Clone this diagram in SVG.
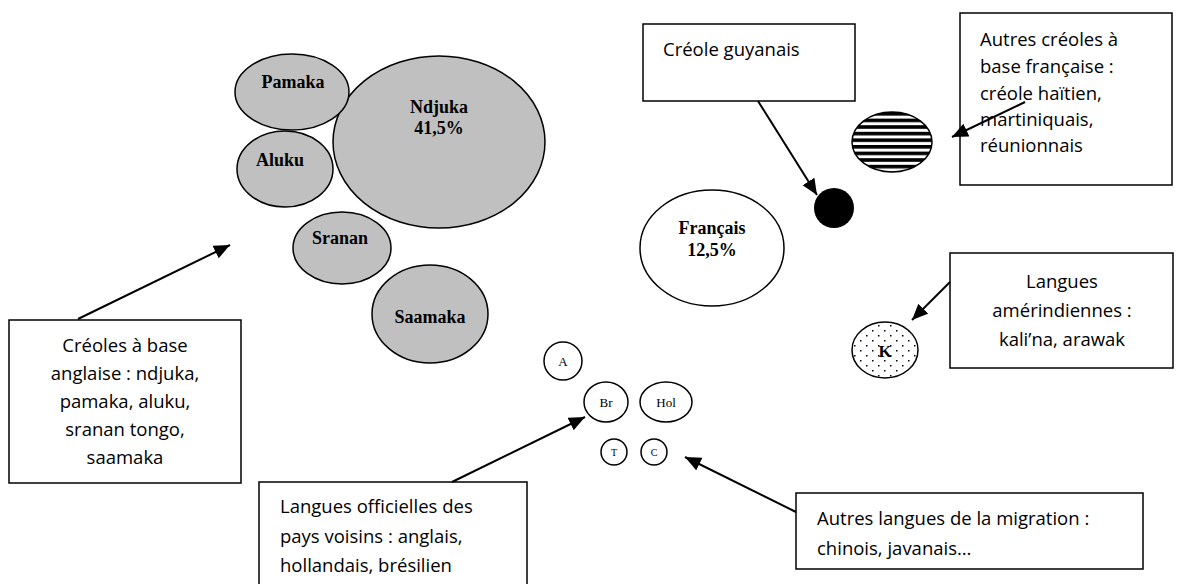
<svg xmlns="http://www.w3.org/2000/svg" width="1178" height="584" viewBox="0 0 1178 584">
<style>
.bub{fill:#c0c0c0;stroke:#000;stroke-width:1.5}
.wb{fill:#fff;stroke:#000;stroke-width:1.5}
.box{fill:#fff;stroke:#000;stroke-width:1.5}
.bl{font-family:"Liberation Serif",serif;font-weight:bold;font-size:18px;text-anchor:middle;fill:#000}
.sm{font-family:"Liberation Serif",serif;font-size:13px;text-anchor:middle;fill:#000}
.tx{font-family:"Open Sans","Liberation Sans",sans-serif;font-size:18.5px;fill:#000}
.c{text-anchor:middle}
.con{stroke:#000;stroke-width:2;fill:none;marker-end:url(#ah)}
</style>
<defs>
<marker id="ah" markerUnits="userSpaceOnUse" markerWidth="18" markerHeight="16" refX="16" refY="7" orient="auto">
<path d="M0,0 L16,7 L0,14 Z" fill="#000"/>
</marker>
<pattern id="stripes" patternUnits="userSpaceOnUse" width="10" height="6.6" x="0" y="112">
<rect width="10" height="6.6" fill="#fff"/>
<rect width="10" height="3.6" fill="#000"/>
</pattern>
<pattern id="dots" patternUnits="userSpaceOnUse" width="12" height="10" x="852" y="333">
<rect width="12" height="10" fill="#fff"/>
<rect x="2" y="2" width="1.5" height="1.5" fill="#000"/>
<rect x="8" y="7" width="1.5" height="1.5" fill="#000"/>
</pattern>
</defs>
<rect width="1178" height="584" fill="#fff"/>

<g id="ndjuka"><ellipse class="bub" cx="439" cy="142" rx="106" ry="86"/><text class="bl" x="439" y="113">Ndjuka</text><text class="bl" x="439" y="134">41,5%</text></g>
<g id="pamaka"><ellipse class="bub" cx="292" cy="92" rx="57" ry="38"/><text class="bl" x="293" y="88">Pamaka</text></g>
<g id="aluku"><ellipse class="bub" cx="285" cy="169" rx="48" ry="38"/><text class="bl" x="280" y="166">Aluku</text></g>
<g id="sranan"><ellipse class="bub" cx="342" cy="248" rx="49" ry="36"/><text class="bl" x="340" y="244">Sranan</text></g>
<g id="saamaka"><ellipse class="bub" cx="430" cy="314" rx="58" ry="49"/><text class="bl" x="430" y="323">Saamaka</text></g>
<g id="francais"><ellipse class="wb" cx="712" cy="248" rx="72" ry="58"/><text class="bl" x="712" y="234">Français</text><text class="bl" x="712" y="256">12,5%</text></g>
<g id="creole-guyanais-dot"><circle cx="834" cy="208" r="20" fill="#000"/></g>
<g id="autres-creoles-dot"><ellipse cx="892" cy="142" rx="40" ry="30" fill="url(#stripes)" stroke="#000" stroke-width="1.5"/></g>
<g id="kalina"><ellipse cx="885" cy="350" rx="33" ry="28" fill="url(#dots)" stroke="#000" stroke-width="1.5"/><text class="bl" x="885" y="357" style="font-size:17px">K</text></g>
<g id="a"><circle class="wb" cx="563" cy="361" r="19"/><text class="sm" x="563" y="366">A</text></g>
<g id="br"><ellipse class="wb" cx="606" cy="402" rx="22" ry="20"/><text class="sm" x="606" y="407">Br</text></g>
<g id="hol"><ellipse class="wb" cx="666" cy="402" rx="26" ry="20"/><text class="sm" x="666" y="407">Hol</text></g>
<g id="t"><circle class="wb" cx="614" cy="452" r="13"/><text class="sm" x="614" y="456" style="font-size:10px">T</text></g>
<g id="c"><circle class="wb" cx="654" cy="452" r="13"/><text class="sm" x="654" y="456" style="font-size:10px">C</text></g>

<g id="box-creole-guyanais"><rect class="box" x="643" y="24" width="212" height="77"/><text class="tx" x="663" y="56">Créole guyanais</text></g>
<g id="box-autres-creoles"><rect class="box" x="960" y="13" width="212" height="172"/>
<text class="tx" x="980" y="46">Autres créoles à</text>
<text class="tx" x="980" y="73">base française :</text>
<text class="tx" x="980" y="100">créole haïtien,</text>
<text class="tx" x="980" y="126">martiniquais,</text>
<text class="tx" x="980" y="152">réunionnais</text></g>
<g id="box-amerindiennes"><rect class="box" x="950" y="253" width="223" height="115"/>
<text class="tx c" x="1062" y="288">Langues</text>
<text class="tx c" x="1062" y="317">amérindiennes :</text>
<text class="tx c" x="1062" y="346">kali’na, arawak</text></g>
<g id="box-creoles-anglaise"><rect class="box" x="9" y="320" width="232" height="163"/>
<text class="tx c" x="125" y="352">Créoles à base</text>
<text class="tx c" x="125" y="380">anglaise : ndjuka,</text>
<text class="tx c" x="125" y="408">pamaka, aluku,</text>
<text class="tx c" x="125" y="436">sranan tongo,</text>
<text class="tx c" x="125" y="464">saamaka</text></g>
<g id="box-langues-officielles"><rect class="box" x="259" y="482" width="268" height="110"/>
<text class="tx" x="280" y="513">Langues officielles des</text>
<text class="tx" x="280" y="543">pays voisins : anglais,</text>
<text class="tx" x="280" y="572">hollandais, brésilien</text></g>
<g id="box-migration"><rect class="box" x="796" y="493" width="347" height="76"/>
<text class="tx" x="817" y="525">Autres langues de la migration :</text>
<text class="tx" x="817" y="555">chinois, javanais…</text></g>

<g id="connectors">
<line class="con" x1="758" y1="101" x2="817" y2="195"/>
<line class="con" x1="1025" y1="102" x2="952" y2="137"/>
<line class="con" x1="950" y1="282" x2="912" y2="320"/>
<line class="con" x1="78" y1="319" x2="230" y2="245"/>
<line class="con" x1="452" y1="482" x2="585" y2="417"/>
<line class="con" x1="796" y1="512" x2="685" y2="457"/>
</g>
</svg>
